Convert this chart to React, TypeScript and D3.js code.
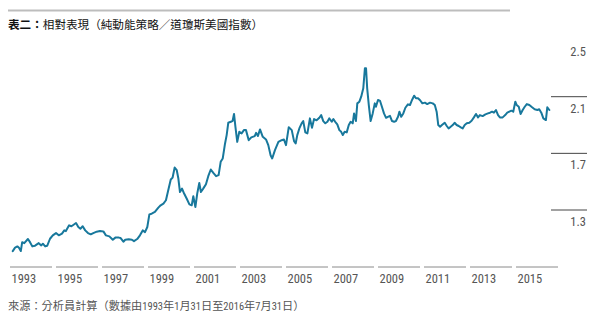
import React from "react";
import * as d3 from "d3";

const title = "相對表現（純動能策略／道瓊斯美國指數）";
const years = [1993, 1995, 1997, 1999, 2001, 2003, 2005, 2007, 2009, 2011, 2013, 2015];
const yTicks = [2.5, 2.1, 1.7, 1.3];
const yTickLines = [2.1, 1.7, 1.3];

const dates = [
  1993.12, 1993.22, 1993.32, 1993.39, 1993.47, 1993.53, 1993.62, 1993.78, 1993.87, 1993.97,
  1994.09, 1994.25, 1994.36, 1994.43, 1994.53, 1994.62, 1994.74, 1994.86, 1995.0, 1995.12,
  1995.26, 1995.36, 1995.43, 1995.57, 1995.67, 1995.75, 1995.87, 1995.97, 1996.06, 1996.16,
  1996.27, 1996.39, 1996.51, 1996.62, 1996.77, 1996.91, 1997.06, 1997.17, 1997.32, 1997.47,
  1997.58, 1997.73, 1997.81, 1997.93, 1998.01, 1998.16, 1998.3, 1998.39, 1998.53, 1998.65,
  1998.77, 1998.87, 1998.97, 1999.06, 1999.16, 1999.3, 1999.45, 1999.55, 1999.67, 1999.78,
  1999.88, 1999.99, 2000.07, 2000.16, 2000.25, 2000.32, 2000.39, 2000.48, 2000.57, 2000.68,
  2000.8, 2000.9, 2000.97, 2001.06, 2001.14, 2001.23, 2001.3, 2001.4, 2001.52, 2001.62,
  2001.73, 2001.84, 2001.96, 2002.07, 2002.16, 2002.25, 2002.35, 2002.42, 2002.49, 2002.6,
  2002.68, 2002.74, 2002.8, 2002.88, 2002.97, 2003.07, 2003.17, 2003.26, 2003.38, 2003.49,
  2003.64, 2003.7, 2003.78, 2003.87, 2003.99, 2004.13, 2004.23, 2004.33, 2004.4, 2004.52,
  2004.67, 2004.81, 2004.91, 2005.0, 2005.12, 2005.25, 2005.35, 2005.42, 2005.49, 2005.58,
  2005.68, 2005.75, 2005.84, 2005.93, 2006.04, 2006.13, 2006.22, 2006.33, 2006.45, 2006.53,
  2006.62, 2006.71, 2006.8, 2006.88, 2006.99, 2007.06, 2007.14, 2007.23, 2007.32, 2007.4,
  2007.47, 2007.55, 2007.64, 2007.73, 2007.81, 2007.9, 2007.96, 2008.04, 2008.1, 2008.19,
  2008.27, 2008.36, 2008.43, 2008.48, 2008.53, 2008.6, 2008.68, 2008.77, 2008.86, 2008.91,
  2009.0, 2009.09, 2009.17, 2009.26, 2009.35, 2009.43, 2009.52, 2009.61, 2009.7, 2009.78,
  2009.87, 2009.93, 2010.01, 2010.1, 2010.19, 2010.3, 2010.39, 2010.48, 2010.57, 2010.65,
  2010.74, 2010.83, 2010.93, 2011.04, 2011.14, 2011.26, 2011.38, 2011.47, 2011.55, 2011.62,
  2011.7, 2011.78, 2011.9, 2011.99, 2012.07, 2012.16, 2012.25, 2012.33, 2012.42, 2012.51,
  2012.6, 2012.68, 2012.77, 2012.86, 2012.97, 2013.07, 2013.17, 2013.26, 2013.35, 2013.43,
  2013.55, 2013.67, 2013.78, 2013.87, 2013.96, 2014.04, 2014.13, 2014.22, 2014.3, 2014.42,
  2014.53, 2014.62, 2014.71, 2014.8, 2014.88, 2014.97, 2015.03, 2015.12, 2015.2, 2015.29,
  2015.38, 2015.47, 2015.58, 2015.7, 2015.81, 2015.93, 2016.01, 2016.1, 2016.19, 2016.3,
  2016.36, 2016.45,
];

const values = [
  1.01, 1.034, 1.043, 1.034, 1.01, 1.073, 1.066, 1.095, 1.073, 1.043,
  1.048, 1.066, 1.05, 1.062, 1.043, 1.048, 1.097, 1.121, 1.137, 1.121,
  1.133, 1.156, 1.151, 1.192, 1.185, 1.194, 1.208, 1.18, 1.168, 1.185,
  1.156, 1.137, 1.128, 1.137, 1.147, 1.151, 1.149, 1.121, 1.114, 1.09,
  1.105, 1.105, 1.102, 1.076, 1.09, 1.093, 1.09, 1.08, 1.095, 1.121,
  1.156, 1.144, 1.18, 1.269, 1.274, 1.286, 1.317, 1.333, 1.345, 1.369,
  1.439, 1.515, 1.529, 1.6, 1.581, 1.522, 1.427, 1.451, 1.416, 1.381,
  1.34, 1.333, 1.397, 1.321, 1.416, 1.491, 1.427, 1.451, 1.482, 1.539,
  1.586, 1.562, 1.539, 1.546, 1.64, 1.664, 1.77, 1.829, 1.916, 1.923,
  1.93, 1.978, 1.888, 1.781, 1.852, 1.841, 1.864, 1.864, 1.793, 1.813,
  1.822, 1.845, 1.822, 1.869, 1.817, 1.798, 1.758, 1.687, 1.664, 1.723,
  1.781, 1.793, 1.798, 1.758, 1.885, 1.864, 1.786, 1.77, 1.829, 1.876,
  1.912, 1.928, 1.848, 1.841, 1.947, 1.881, 1.942, 1.933, 1.951, 1.97,
  1.928, 1.912, 1.923, 1.947, 1.923, 1.942, 1.923, 1.905, 1.864, 1.852,
  1.829, 1.852, 1.848, 1.9, 1.923, 1.912, 1.982, 1.928, 2.053, 2.065,
  2.1, 2.159, 2.301, 2.301, 2.159, 2.041, 1.928, 1.982, 2.053, 2.029,
  2.077, 2.07, 2.029, 1.982, 1.951, 1.958, 1.965, 1.928, 1.923, 1.928,
  1.958, 1.994, 1.958, 1.982, 2.022, 2.046, 2.041, 2.077, 2.107, 2.089,
  2.089, 2.075, 2.053, 2.058, 2.048, 2.058, 2.053, 2.041, 1.994, 1.9,
  1.888, 1.9, 1.916, 1.893, 1.876, 1.888, 1.9, 1.916, 1.9, 1.893,
  1.883, 1.876, 1.9, 1.912, 1.916, 1.93, 1.954, 1.978, 1.954, 1.97,
  1.963, 1.975, 1.982, 1.987, 1.994, 1.987, 2.006, 1.97, 1.954, 1.954,
  1.97, 1.987, 1.994, 2.001, 1.994, 2.065, 2.041, 2.029, 1.978, 2.006,
  2.029, 2.048, 2.041, 2.025, 2.011, 2.006, 2.011, 1.987, 1.947, 1.935,
  2.025, 2.006,
];

const W = 602;
const H = 321;
const narrow = "'Liberation Sans Narrow', 'Arial Narrow', 'Roboto Condensed', sans-serif";
const cjk = "'Noto Sans CJK TC', 'Noto Sans CJK SC', sans-serif";

export default function App() {
  const x = d3.scaleLinear().domain([1993, 2017]).range([10, 10 + 24 * 23]);
  const y = d3.scaleLinear().domain([1.3, 2.1]).range([210, 96.7]);
  const pts: [number, number][] = dates.map((d, i) => [d, values[i]]);
  const line = d3
    .line<[number, number]>()
    .x((d) => x(d[0]))
    .y((d) => y(d[1]))
    .curve(d3.curveLinear);

  return (
    <svg
      width={W}
      height={H}
      style={{ position: "absolute", left: 0, top: 0, background: "#fff" }}
    >
      <line x1={8} x2={510} y1={10.5} y2={10.5} stroke="#bdbdbd" strokeWidth={2} />
      <text x={8} y={29} fontFamily={cjk} fontSize={11.6} fill="#111">
        <tspan fontWeight="bold">表二：</tspan>
        <tspan>{title}</tspan>
      </text>

      {yTickLines.map((v) => (
        <line key={v} x1={551} x2={587} y1={y(v)} y2={y(v)} stroke="#444" strokeWidth={1} />
      ))}
      {yTicks.map((v) => (
        <text
          key={v}
          x={586}
          y={y(v) + 16}
          textAnchor="end"
          fontFamily={narrow}
          fontSize={12.5}
          fill="#555"
        >
          {v.toFixed(1)}
        </text>
      ))}

      {years.map((yr) => (
        <g key={yr}>
          <line x1={x(yr)} x2={x(yr + 2) - 4} y1={267} y2={267} stroke="#8a8a8a" strokeWidth={1} />
          <text x={x(yr) + 1.5} y={282.5} fontFamily={narrow} fontSize={12.5} fill="#555">
            {yr}
          </text>
        </g>
      ))}

      <path
        d={line(pts) || ""}
        fill="none"
        stroke="#18789c"
        strokeWidth={2}
        strokeLinejoin="round"
        strokeLinecap="round"
      />

      <text x={8} y={309.5} fontFamily={cjk} fontSize={11.2} fill="#555">
        <tspan>來源：分析員計算（數據由</tspan>
        <tspan fontFamily={narrow} fontSize={10.5}>1993</tspan>
        <tspan>年</tspan>
        <tspan fontFamily={narrow} fontSize={10.5}>1</tspan>
        <tspan>月</tspan>
        <tspan fontFamily={narrow} fontSize={10.5}>31</tspan>
        <tspan>日至</tspan>
        <tspan fontFamily={narrow} fontSize={10.5}>2016</tspan>
        <tspan>年</tspan>
        <tspan fontFamily={narrow} fontSize={10.5}>7</tspan>
        <tspan>月</tspan>
        <tspan fontFamily={narrow} fontSize={10.5}>31</tspan>
        <tspan>日）</tspan>
      </text>
    </svg>
  );
}
